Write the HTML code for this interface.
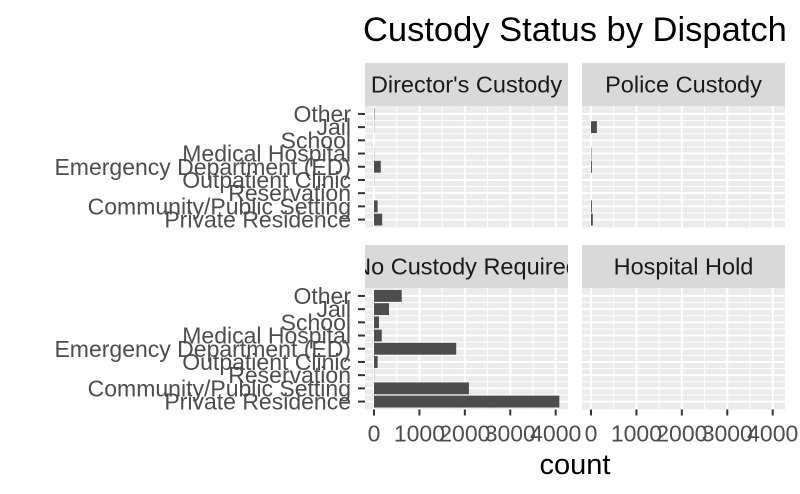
<!DOCTYPE html>
<html><head><meta charset="utf-8"><style>
html,body{margin:0;padding:0;background:#fff;}
svg{display:block;font-family:"Liberation Sans",Arial,sans-serif;}
</style></head><body>
<svg id="chart" width="800" height="494" viewBox="0 0 800 494">
<text x="363" y="41" font-size="34.5" fill="#000">Custody Status by Dispatch</text>
<text x="575" y="474" font-size="29" fill="#000" text-anchor="middle">count</text>
</svg>
<script>
const categories = ["Other","Jail","School","Medical Hospital","Emergency Department (ED)","Outpatient Clinic","Reservation","Community/Public Setting","Private Residence"];
const panels = ["Director's Custody","Police Custody","No Custody Required","Hospital Hold"];
const directorValues = [10,5,0,5,150,5,0,80,180];
const policeValues = [0,130,0,10,20,0,0,20,40];
const noCustodyValues = [610,330,110,170,1810,80,5,2090,4080];
const hospitalValues = [0,0,0,0,0,0,0,0,0];
const xTicks = [0,1000,2000,3000,4000];
const seriesList = [directorValues, policeValues, noCustodyValues, hospitalValues];

const NS = "http://www.w3.org/2000/svg";
const svg = document.getElementById('chart');
function mk(tag, attrs, parent){const e=document.createElementNS(NS,tag);for(const k in attrs)e.setAttribute(k,attrs[k]);(parent||svg).appendChild(e);return e;}

const colX = [365, 582], panelW = 203;
const rowY = [106, 288], panelH = 121.5, stripH = 43;
const xScale = (v, x0) => x0 + 9 + v * (181.7/4000);
const step = panelH / 9.2;
const yScale = (i, y0) => y0 + step*0.6 + i*step;

panels.forEach((name, p) => {
  const col = p % 2, row = Math.floor(p / 2);
  const x0 = colX[col], y0 = rowY[row];
  const strip = mk('rect', {x:x0, y:y0-stripH, width:panelW, height:stripH, fill:'#d9d9d9'});
  
  
  const clip = mk('clipPath', {id:'c'+p});
  mk('rect', {x:x0, y:y0-stripH, width:panelW, height:stripH}, clip);
  const st = mk('text', {x:x0+panelW/2, y:y0-stripH/2+8, 'font-size':23.5, fill:'#1a1a1a', 'text-anchor':'middle'});
  st.textContent = name;
  
  
  st.setAttribute('clip-path', 'url(#c'+p+')');
  const bg = mk('rect', {x:x0, y:y0, width:panelW, height:panelH, fill:'#ebebeb'});
  
  
  for (let k = 0; k < xTicks.length; k++) {
    const mx = xScale(xTicks[k] + 500, x0);
    if (mx < x0 + panelW) mk('line', {x1:mx, x2:mx, y1:y0, y2:y0+panelH, stroke:'#fff', 'stroke-width':1});
  }
  for (let i = 0; i < categories.length - 1; i++) {
    const my = (yScale(i, y0) + yScale(i+1, y0)) / 2;
    mk('line', {x1:x0, x2:x0+panelW, y1:my, y2:my, stroke:'#fff', 'stroke-width':1});
  }
  xTicks.forEach(t => {
    const tx = xScale(t, x0);
    mk('line', {x1:tx, x2:tx, y1:y0, y2:y0+panelH, stroke:'#fff', 'stroke-width':2});
  });
  categories.forEach((c, i) => {
    const ty = yScale(i, y0);
    mk('line', {x1:x0, x2:x0+panelW, y1:ty, y2:ty, stroke:'#fff', 'stroke-width':2});
  });
  const vals = seriesList[p];
  vals.forEach((v, i) => {
    const ty = yScale(i, y0);
    const bw = xScale(v, x0) - xScale(0, x0);
    const b = mk('rect', {x:xScale(0, x0), y:ty - step*0.45, width:Math.max(bw, 0), height:step*0.9, fill:'#4d4d4d'});
    
    
  });
  if (col === 0) {
    categories.forEach((c, i) => {
      const ty = yScale(i, y0);
      mk('line', {x1:x0-7, x2:x0, y1:ty, y2:ty, stroke:'#333', 'stroke-width':2});
      const lt = mk('text', {x:x0-14, y:ty+8, 'font-size':23, fill:'#4d4d4d', 'text-anchor':'end'});
      lt.textContent = c;
      
      
    });
  }
  if (row === 1) {
    xTicks.forEach(t => {
      const tx = xScale(t, x0);
      mk('line', {x1:tx, x2:tx, y1:y0+panelH, y2:y0+panelH+6, stroke:'#333', 'stroke-width':2});
      const xt = mk('text', {x:tx, y:y0+panelH+32, 'font-size':23, fill:'#4d4d4d', 'text-anchor':'middle'});
      xt.textContent = t;
      
      
    });
  }
});
</script>
</body></html>
